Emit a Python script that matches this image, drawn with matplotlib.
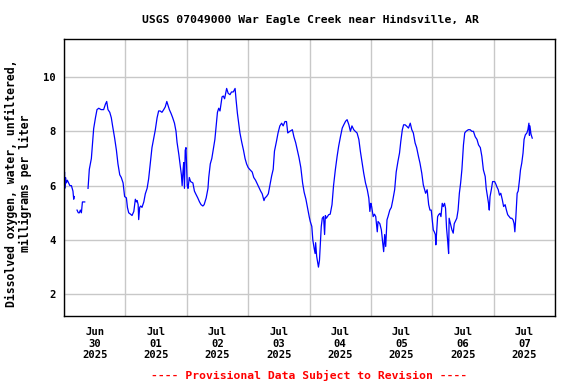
# plot.py
# USGS style chart: dissolved oxygen at War Eagle Creek, Jun 30 - Jul 07 2025

import matplotlib
matplotlib.use("Agg")

import numpy as np
import pandas as pd
import matplotlib.pyplot as plt
import matplotlib.dates as mdates


START = pd.Timestamp("2025-06-30")

# readings per day: hour of day and dissolved oxygen (mg/L), NaN marks a gap
jun30_hours = [0.0, 0.2, 0.3, 0.6, 0.9, 1.3, 1.8, 2.3, 2.9, 3.5, 3.8, 4.0, 4.5,
               5.1, 5.6, 6.0, 6.4, 6.8, 7.2, 8.1, 8.7,
               9.4, 9.9, 10.7, 11.2, 11.6, 12.3, 12.9, 13.6, 14.5, 15.5, 16.2,
               16.7, 17.2, 17.9, 18.5, 19.0, 19.8, 20.5, 21.1, 21.8, 22.4,
               23.1, 23.7]
jun30_do = [5.8, 6.5, 5.9, 6.3, 6.1, 6.2, 6.1, 6.0, 6.0, 5.8, 5.5, 5.6, np.nan,
            5.1, 5.0, 5.0, 5.1, 5.0, 5.4, 5.4, np.nan,
            5.9, 6.6, 7.0, 7.6, 8.1, 8.5, 8.8, 8.85, 8.8, 8.8, 9.0,
            9.1, 8.8, 8.7, 8.5, 8.2, 7.75, 7.3, 6.8, 6.4, 6.3,
            6.1, 5.6]

jul01_hours = [0.4, 0.8, 1.3, 2.0, 2.6, 3.3, 3.9, 4.3, 4.6, 5.0, 5.2, 5.6, 6.0,
               6.5, 7.2, 7.8, 8.5, 9.1, 9.8, 10.4, 11.1, 11.7, 12.4, 13.0,
               13.6, 14.3, 15.0, 15.6, 16.2, 16.7, 17.2, 17.9, 18.5, 19.2,
               19.8, 20.2, 20.9, 21.5, 21.9, 22.2, 22.5, 22.8, 23.1, 23.4, 23.7]
jul01_do = [5.55, 5.2, 5.0, 4.95, 4.9, 5.05, 5.5, 5.4, 5.45, 5.3, 4.75, 5.2, 5.25,
            5.2, 5.4, 5.7, 5.9, 6.25, 6.85, 7.4, 7.75, 8.05, 8.5, 8.75,
            8.75, 8.7, 8.8, 8.9, 9.1, 8.95, 8.8, 8.65, 8.5, 8.3,
            8.0, 7.6, 7.15, 6.7, 6.4, 6.0, 6.5, 6.85, 5.9, 7.3, 7.4]

jul02_hours = [0.2, 0.5, 1.0, 1.5, 2.4, 3.0, 3.5, 4.3, 5.0, 5.6, 6.3, 6.8, 7.6,
               8.3, 8.6, 9.2, 9.8, 10.5, 11.0, 11.5, 12.0, 12.5, 13.0, 13.8,
               14.3, 14.8, 15.6, 16.2, 16.9, 17.5, 18.2, 18.9, 19.3, 19.8,
               20.3, 20.8, 21.5, 22.2, 22.8, 23.4]
jul02_do = [6.0, 5.9, 6.3, 6.15, 6.1, 5.8, 5.7, 5.55, 5.4, 5.3, 5.25, 5.3, 5.55,
            5.9, 6.3, 6.8, 7.0, 7.4, 7.7, 8.2, 8.7, 8.85, 8.75, 9.27,
            9.3, 9.2, 9.58, 9.4, 9.35, 9.45, 9.45, 9.58, 9.15, 8.67,
            8.3, 7.94, 7.6, 7.3, 7.0, 6.8]

jul03_hours = [0.0, 0.6, 1.6, 2.2, 2.9, 3.6, 4.2, 4.9, 5.5, 6.2, 6.6, 7.2, 7.9,
               8.5, 9.2, 9.8, 10.3, 11.1, 11.7, 12.4, 13.1, 13.7, 14.4, 15.0,
               15.5, 16.3, 17.3, 17.9, 18.6, 19.2, 19.9, 20.6, 21.3, 21.9,
               22.6, 23.2, 23.9]
jul03_do = [6.67, 6.6, 6.5, 6.3, 6.2, 6.06, 5.94, 5.8, 5.7, 5.45, 5.55, 5.6, 5.7,
            6.0, 6.36, 6.6, 7.27, 7.64, 7.94, 8.2, 8.3, 8.2, 8.36, 8.36,
            7.94, 8.0, 8.06, 7.8, 7.58, 7.33, 7.03, 6.67, 6.1, 5.76,
            5.5, 5.2, 4.85]

jul04_hours = [0.3, 0.9, 1.3, 1.8, 2.2, 2.4, 2.8, 3.5, 3.9, 4.2, 4.6, 5.0, 5.5,
               5.9, 6.2, 6.6, 7.5, 8.1, 8.8, 9.4, 10.1, 10.8, 11.4, 12.1, 12.8,
               13.4, 14.1, 14.7, 15.4, 16.0, 16.6, 17.3, 17.9, 18.6, 19.3,
               19.9, 20.6, 21.2, 21.9, 22.6, 23.2, 23.6]
jul04_do = [4.68, 4.5, 4.0, 3.7, 3.5, 3.9, 3.4, 3.0, 3.25, 3.76, 4.5, 4.8, 4.86,
            4.2, 4.9, 4.8, 4.93, 4.95, 5.3, 6.0, 6.58, 7.08, 7.45, 7.8, 8.12,
            8.24, 8.37, 8.43, 8.24, 8.0, 8.2, 8.06, 8.0, 7.94, 7.7,
            7.26, 6.83, 6.46, 6.1, 5.85, 5.54, 5.05]

jul05_hours = [0.0, 0.3, 0.9, 1.4, 1.9, 2.5, 2.8, 3.5, 4.1, 4.6, 5.0, 5.4, 5.8,
               6.3, 6.7, 7.4, 8.0, 8.6, 9.3, 9.9, 10.6, 11.2, 11.7, 12.3, 12.8,
               13.4, 14.1, 14.7, 15.4, 16.0, 16.6, 17.3, 17.9, 18.6, 19.2,
               19.9, 20.5, 21.0, 21.4, 22.0, 22.6, 23.1, 23.6]
jul05_do = [5.35, 5.23, 4.86, 4.95, 4.86, 4.3, 4.68, 4.6, 4.37, 3.94, 3.57, 4.2, 3.76,
            4.74, 4.86, 5.1, 5.2, 5.48, 5.85, 6.5, 6.9, 7.2, 7.63, 8.06, 8.24,
            8.24, 8.18, 8.12, 8.3, 8.06, 7.94, 7.57, 7.4, 7.08, 6.83,
            6.46, 6.03, 5.85, 5.72, 5.85, 5.3, 5.1, 5.1]

jul06_hours = [0.4, 0.8, 1.2, 1.4, 1.7, 2.1, 2.5, 3.0, 3.4, 3.9, 4.3, 4.8, 5.2,
               5.6, 6.0, 6.4, 6.6, 7.1, 7.7, 8.2, 8.6, 9.0, 9.6, 10.1, 10.6,
               11.1, 11.6, 12.2, 12.7, 13.2, 14.1, 14.8, 15.5, 16.1, 16.8,
               17.5, 18.1, 18.8, 19.4, 20.0, 20.7, 21.1, 21.6, 22.0, 22.3,
               22.6, 23.1, 23.6]
jul06_do = [4.37, 4.3, 4.2, 3.82, 4.25, 4.86, 4.93, 4.98, 4.86, 5.35, 5.23, 5.35, 5.17,
            4.43, 4.0, 3.5, 4.8, 4.6, 4.37, 4.25, 4.6, 4.68, 4.8, 5.1, 5.72,
            6.1, 6.6, 7.5, 7.94, 8.0, 8.06, 8.06, 8.0, 8.0, 7.8,
            7.7, 7.5, 7.4, 7.08, 6.58, 6.34, 5.9, 5.6, 5.35, 5.1,
            5.6, 5.85, 6.15]

jul07_hours = [0.4, 0.9, 1.3, 1.8, 2.3, 2.8, 3.4, 3.9, 4.5, 5.0, 5.5, 6.0, 6.6,
               7.1, 7.6, 8.0, 8.3, 8.7, 9.2, 9.6, 10.1, 10.5, 11.0, 11.5, 11.9,
               12.4, 13.0, 13.4, 13.8, 14.0, 14.2, 14.6, 15.1]
jul07_do = [6.15, 6.05, 5.95, 5.85, 5.65, 5.72, 5.48, 5.23, 5.3, 5.1, 4.93, 4.87, 4.8,
            4.8, 4.74, 4.6, 4.3, 4.86, 5.72, 5.8, 6.2, 6.58, 6.83, 7.2, 7.7,
            7.87, 7.94, 8.06, 8.3, 7.85, 8.2, 7.9, 7.75]

DAYS = [
    (jun30_hours, jun30_do),
    (jul01_hours, jul01_do),
    (jul02_hours, jul02_do),
    (jul03_hours, jul03_do),
    (jul04_hours, jul04_do),
    (jul05_hours, jul05_do),
    (jul06_hours, jul06_do),
    (jul07_hours, jul07_do),
]

TITLE = "USGS 07049000 War Eagle Creek near Hindsville, AR"
Y_LABEL = "Dissolved oxygen, water, unfiltered,\nmilligrams per liter"
FOOTER = "---- Provisional Data Subject to Revision ----"

FONT = "DejaVu Sans Mono"


def build_series():
    """Join the daily readings into one time series."""
    times = []
    values = []
    for day, (hours, do) in enumerate(DAYS):
        for h, v in zip(hours, do):
            times.append(START + pd.Timedelta(hours=day * 24 + h))
            values.append(v)
    return pd.Series(values, index=pd.DatetimeIndex(times))


def make_chart():
    series = build_series()

    fig = plt.figure(figsize=(5.76, 3.84), dpi=100)
    ax = fig.add_axes([64 / 576, 1 - 316 / 384, 491 / 576, 277 / 384])

    ax.plot(series.index, series.values, color="#0000ff", linewidth=0.9)

    ax.set_xlim(START, START + pd.Timedelta(days=8))
    ax.set_ylim(1.2, 11.4)

    # gridlines at midnight, date labels at noon
    ax.xaxis.set_major_locator(mdates.DayLocator())
    ax.xaxis.set_major_formatter(plt.NullFormatter())
    ax.xaxis.set_minor_locator(mdates.HourLocator(byhour=[12]))
    ax.xaxis.set_minor_formatter(mdates.DateFormatter("%b\n%d\n%Y"))
    ax.set_yticks([2, 4, 6, 8, 10])

    ax.grid(True, which="major", color="#c8c8c8", linewidth=1.0)
    ax.set_axisbelow(True)
    ax.tick_params(which="both", length=0)
    ax.tick_params(axis="x", which="minor", pad=8)
    ax.tick_params(axis="y", pad=6)

    for label in ax.get_xticklabels(minor=True) + ax.get_yticklabels():
        label.set_fontfamily(FONT)
        label.set_fontweight("bold")
        label.set_fontsize(7.6)
        label.set_linespacing(1.2)

    for spine in ax.spines.values():
        spine.set_color("black")
        spine.set_linewidth(1.0)

    ax.set_ylabel(Y_LABEL, fontfamily=FONT, fontweight="bold", fontsize=8.3,
                  linespacing=1.05)
    # place the label's right edge about 32 px from the figure's left side
    ax.yaxis.set_label_coords((32 - 64) / 491, 0.48)

    fig.text(310 / 576, 1 - 20 / 384, TITLE, ha="center", va="center",
             fontfamily=FONT, fontweight="bold", fontsize=8.2)
    fig.text(309 / 576, 1 - 375 / 384, FOOTER, ha="center", va="center",
             fontfamily=FONT, fontweight="bold", fontsize=8.2, color="#ff0000")

    fig.savefig("out.png", dpi=100)
    plt.close(fig)


if __name__ == "__main__":
    make_chart()
